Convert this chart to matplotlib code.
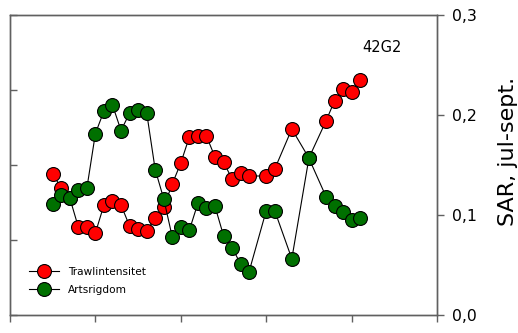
import numpy as np
import matplotlib.pyplot as plt

plt.rcParams['font.family'] = ['DejaVu Sans']

# x positions (unlabelled axis, 0-50)
x_red = [5, 6, 7, 8, 9, 10, 11, 12, 13, 14, 15, 16, 17, 18, 19, 20, 21, 22, 23, 24, 25, 26, 27, 28,
         30, 31, 33, 35, 37, 38, 39, 40, 41]
x_green = list(x_red)

# Trawlintensitet (SAR, right axis)
sar = [0.141, 0.127, 0.117, 0.088, 0.088, 0.082, 0.110, 0.114, 0.110, 0.089, 0.086, 0.084, 0.097,
       0.108, 0.131, 0.152, 0.178, 0.179, 0.179, 0.158, 0.153, 0.136, 0.142, 0.139,
       0.139, 0.146, 0.186, 0.157, 0.194, 0.214, 0.226, 0.223, 0.235]

# Artsrigdom (left axis, no labels)
arts = [1.48, 1.60, 1.56, 1.67, 1.69, 2.42, 2.72, 2.80, 2.46, 2.69, 2.73, 2.70, 1.94,
        1.55, 1.04, 1.17, 1.13, 1.49, 1.43, 1.45, 1.06, 0.90, 0.68, 0.58,
        1.39, 1.39, 0.75, 2.09, 1.58, 1.46, 1.37, 1.27, 1.29]

fig = plt.figure(figsize=(5.18, 3.33), dpi=100)
ax = fig.add_axes([10 / 518, 18 / 333, 427 / 518, 300 / 333])
ax2 = ax.twinx()

spine_col = '#606060'
ms = 10

# red on the main axis (labels on the right)
l1, = ax.plot(x_red, sar, '-', color='black', lw=0.8, marker='o', ms=ms,
              mfc='#ff0000', mec='black', mew=0.8, label='Trawlintensitet')
ax.set_xlim(0, 50)
ax.set_ylim(0, 0.3)
ax.yaxis.tick_right()
ax.set_yticks([0.0, 0.1, 0.2, 0.3])
ax.set_yticklabels(['0,0', '0,1', '0,2', '0,3'])
ax.set_xticks([0, 10, 20, 30, 40, 50])
ax.set_xticklabels([])
ax.tick_params(axis='y', direction='out', length=5, width=1, color=spine_col,
               labelsize=11.3, pad=6)
ax.tick_params(axis='x', direction='out', length=5, width=1, color=spine_col)
fig.text(508 / 518, 1 - 151 / 333, 'SAR, jul-sept.', rotation=90, ha='center', va='center',
         fontsize=16)

# green on the twin axis (ticks on the left, no labels)
l2, = ax2.plot(x_green, arts, '-', color='black', lw=0.8, marker='o', ms=ms,
               mfc='#007000', mec='black', mew=0.8, label='Artsrigdom')
ax2.set_ylim(0, 4)
ax2.yaxis.tick_left()
ax2.set_yticks([0, 1, 2, 3, 4])
ax2.set_yticklabels([])
ax2.tick_params(axis='y', direction='in', length=5, width=1, color=spine_col)

for a in (ax, ax2):
    for s in a.spines.values():
        s.set_color(spine_col)
        s.set_linewidth(1)

ax2.text(0.8705, 0.891, '42G2', transform=ax.transAxes, ha='center', va='center', fontsize=10.5)

ax2.legend(handles=[l1, l2], loc='lower left', bbox_to_anchor=(0.035, 0.054), frameon=False,
           fontsize=7.6, handlelength=2.8, handletextpad=0.9, labelspacing=0.7,
           borderaxespad=0, borderpad=0.4)

fig.savefig('out.png', dpi=100)
